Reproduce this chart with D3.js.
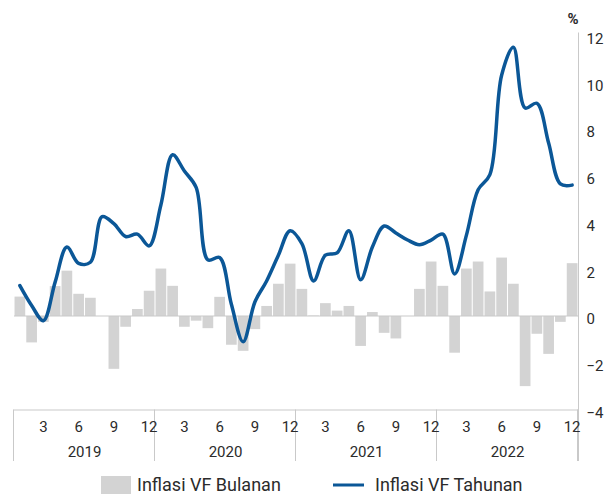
<!DOCTYPE html>
<meta charset="utf-8">
<style>
body { margin: 0; background: #fff; }
svg text { font-family: Roboto, "Liberation Sans", sans-serif; fill: #2b2b2b; }
.axis path { display: none; }
.axis line { display: none; }
</style>
<svg width="611" height="497"></svg>
<script src="https://cdn.jsdelivr.net/npm/d3@7"></script>
<script>

// monthly (bars) and yearly (line) volatile food inflation, Jan 2019 - Dec 2022
var years = ["2019", "2020", "2021", "2022"];
var monthTicks = [3, 6, 9, 12];
var yTicks = [-4, -2, 0, 2, 4, 6, 8, 10, 12];

var bulanan = [0.83, -1.13, -0.25, 1.28, 1.94, 0.95, 0.78, 0.0, -2.26, -0.46, 0.3, 1.08,
               2.03, 1.29, -0.46, -0.2, -0.52, 0.82, -1.23, -1.49, -0.56, 0.43, 1.38, 2.24,
               1.16, 0.02, 0.55, 0.23, 0.43, -1.28, 0.17, -0.72, -0.96, 0.0, 1.16, 2.33,
               1.29, -1.57, 2.03, 2.33, 1.05, 2.5, 1.38, -3.0, -0.76, -1.62, -0.25, 2.26];

var tahunan = [1.3, 0.45, -0.2, 1.45, 2.95, 2.25, 2.3, 4.25, 3.95, 3.4, 3.5, 3.0,
               4.75, 6.9, 6.2, 5.5, 2.4, 2.5, 0.5, -1.1, 0.6, 1.5, 2.6, 3.65,
               3.1, 1.5, 2.6, 2.7, 3.65, 1.55, 2.95, 3.85, 3.55, 3.25, 3.05, 3.25,
               3.5, 1.8, 3.45, 5.4, 6.05, 10.3, 11.5, 8.9, 9.1, 7.4, 5.65, 5.6];

var svg = d3.select("svg"),
    plotL = 14, plotR = 578, plotT = 35.5, plotB = 409.5;

var idx = d3.range(bulanan.length);

var x = d3.scaleBand()
    .domain(idx)
    .range([plotL, plotR])
    .paddingInner(0.09)
    .paddingOuter(0.045);

var y = d3.scaleLinear()
    .domain([-4, 12])
    .range([plotB, plotT]);

var grey = "#c9c9c9";

// bars
svg.append("g").selectAll("rect")
    .data(idx)
  .enter().append("rect")
    .attr("x", function(i) { return x(i); })
    .attr("width", x.bandwidth())
    .attr("y", function(i) { return y(Math.max(0, bulanan[i])); })
    .attr("height", function(i) { return Math.abs(y(bulanan[i]) - y(0)); })
    .attr("fill", "#d3d3d3");

// zero line
svg.append("line")
    .attr("x1", plotL).attr("x2", plotR)
    .attr("y1", y(0)).attr("y2", y(0))
    .attr("stroke", grey);

// yearly line
var line = d3.line()
    .x(function(i) { return x(i) + x.bandwidth() / 2; })
    .y(function(i) { return y(tahunan[i]); })
    .curve(d3.curveCatmullRom.alpha(0.5));

svg.append("path")
    .datum(idx)
    .attr("d", line)
    .attr("fill", "none")
    .attr("stroke", "#0b5797")
    .attr("stroke-width", 3.5)
    .attr("stroke-linecap", "round")
    .attr("stroke-linejoin", "round");

// right axis
svg.append("line")
    .attr("x1", plotR + 0.5).attr("x2", plotR + 0.5)
    .attr("y1", plotT - 3).attr("y2", 461)
    .attr("stroke", grey);

svg.append("g")
    .attr("class", "axis")
    .attr("transform", "translate(" + (plotR + 0.5) + ",3)")
    .call(d3.axisRight(y).tickValues(yTicks).tickSize(0).tickPadding(8).tickFormat(d3.format("")))
    .selectAll("text")
    .style("font-size", "15px")
    .attr("fill", "#2b2b2b");

svg.append("text")
    .attr("x", 573)
    .attr("y", 24)
    .attr("text-anchor", "middle")
    .style("font-size", "15px")
    .style("font-weight", "bold")
    .text("%");

// x axis box
svg.append("line")
    .attr("x1", plotL - 0.5).attr("x2", plotR + 0.5)
    .attr("y1", plotB + 0.5).attr("y2", plotB + 0.5)
    .attr("stroke", grey);

var yearW = (plotR - plotL) / years.length;

svg.append("g").selectAll("line")
    .data(d3.range(years.length + 1))
  .enter().append("line")
    .attr("x1", function(k) { return plotL + k * yearW - 0.5; })
    .attr("x2", function(k) { return plotL + k * yearW - 0.5; })
    .attr("y1", plotB)
    .attr("y2", 461)
    .attr("stroke", grey);

svg.append("g").selectAll("text")
    .data(idx.filter(function(i) { return monthTicks.indexOf(i % 12 + 1) >= 0; }))
  .enter().append("text")
    .attr("x", function(i) { return x(i) + x.bandwidth() / 2; })
    .attr("y", 432)
    .attr("text-anchor", "middle")
    .style("font-size", "15px")
    .text(function(i) { return i % 12 + 1; });

svg.append("g").selectAll("text")
    .data(years)
  .enter().append("text")
    .attr("x", function(d, k) { return plotL + (k + 0.5) * yearW; })
    .attr("y", 457)
    .attr("text-anchor", "middle")
    .style("font-size", "15px")
    .text(function(d) { return d; });

// legend
var lg = svg.append("g");
lg.append("rect")
    .attr("x", 101).attr("y", 476)
    .attr("width", 30).attr("height", 18)
    .attr("fill", "#d3d3d3");
lg.append("text")
    .attr("x", 137).attr("y", 491)
    .style("font-size", "18px")
    .text("Inflasi VF Bulanan");
lg.append("line")
    .attr("x1", 333).attr("x2", 364)
    .attr("y1", 485).attr("y2", 485)
    .attr("stroke", "#0b5797")
    .attr("stroke-width", 3);
lg.append("text")
    .attr("x", 375).attr("y", 491)
    .style("font-size", "18px")
    .text("Inflasi VF Tahunan");

</script>
